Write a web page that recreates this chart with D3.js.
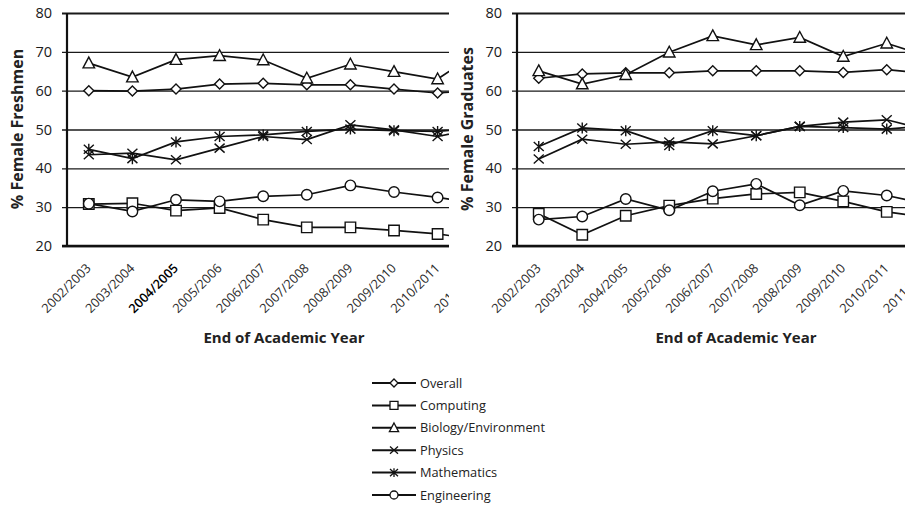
<!DOCTYPE html>
<html><head><meta charset="utf-8">
<script src="https://cdn.jsdelivr.net/npm/d3@7"></script>
<style>body{margin:0;background:#fff} svg{display:block;font-family:'Open Sans',sans-serif}</style>
</head><body><svg id="c" width="912" height="505"></svg>
<script>
const years = ["2002/2003","2003/2004","2004/2005","2005/2006","2006/2007","2007/2008","2008/2009","2009/2010","2010/2011","2011/2012"];
const yTicks = [20,30,40,50,60,70,80];
const seriesNames = ["Overall","Computing","Biology/Environment","Physics","Mathematics","Engineering"];
const xTitle = "End of Academic Year";
const yTitles = ["% Female Freshmen","% Female Graduates"];

// Freshmen (left panel)
const freshOverall     = [60.0, 59.9, 60.4, 61.7, 61.9, 61.5, 61.5, 60.4, 59.4, 60.3];
const freshComputing   = [30.8, 31.0, 29.1, 29.8, 26.8, 24.8, 24.8, 24.0, 23.1, 21.6];
const freshBiology     = [67.1, 63.5, 68.0, 69.0, 67.9, 63.2, 66.8, 64.9, 63.0, 70.5];
const freshPhysics     = [43.5, 43.9, 42.2, 45.2, 48.2, 47.4, 51.2, 49.9, 48.2, 50.5];
const freshMathematics = [44.9, 42.5, 46.8, 48.2, 48.6, 49.5, 50.1, 49.7, 49.5, 50.5];
const freshEngineering = [30.9, 28.9, 31.9, 31.5, 32.8, 33.2, 35.6, 33.9, 32.5, 30.8];

// Graduates (right panel)
const gradOverall     = [63.2, 64.3, 64.6, 64.6, 65.1, 65.1, 65.1, 64.7, 65.4, 64.4];
const gradComputing   = [28.3, 22.9, 27.8, 30.4, 32.2, 33.4, 33.8, 31.5, 28.8, 27.2];
const gradBiology     = [65.1, 61.7, 64.1, 69.9, 74.1, 71.8, 73.7, 68.8, 72.2, 68.6];
const gradPhysics     = [42.4, 47.5, 46.2, 46.8, 46.3, 48.4, 50.8, 51.9, 52.5, 49.7];
const gradMathematics = [45.6, 50.4, 49.7, 45.9, 49.7, 48.4, 50.8, 50.5, 50.1, 51.0];
const gradEngineering = [26.8, 27.6, 32.1, 29.2, 34.1, 36.0, 30.5, 34.2, 33.0, 30.6];

const freshSeries = [freshOverall, freshComputing, freshBiology, freshPhysics, freshMathematics, freshEngineering];
const gradSeries  = [gradOverall, gradComputing, gradBiology, gradPhysics, gradMathematics, gradEngineering];

const svg = d3.select("#c");
const defs = svg.append("defs");

function markerPath(name, s) {
  const h = s/2;
  switch (name) {
    case "Overall": return `M0,${-h}L${h},0L0,${h}L${-h},0Z`;
    case "Computing": return `M${-h},${-h}H${h}V${h}H${-h}Z`;
    case "Biology/Environment": return `M0,${-h*1.2}L${h*1.15},${h*0.95}L${-h*1.15},${h*0.95}Z`;
    case "Physics": return `M${-h},${-h*0.9}L${h},${h*0.9}M${-h},${h*0.9}L${h},${-h*0.9}`;
    case "Mathematics": return `M${-h},${-h*0.9}L${h},${h*0.9}M${-h},${h*0.9}L${h},${-h*0.9}M0,${-h*1.1}V${h*1.1}`;
    case "Engineering": { const r = h; return `M${r},0A${r},${r} 0 1,1 ${-r},0A${r},${r} 0 1,1 ${r},0Z`; }
  }
}

const y = d3.scaleLinear().domain([20,80]).range([246,13]);

const panels = [
  {axisX:67, rangeEnd:503, clip:[0,449], series:freshSeries, yTitle:yTitles[0], yTitleX:17, titleX:284, boldLabel:"2004/2005"},
  {axisX:517, rangeEnd:952, clip:[452,905], series:gradSeries, yTitle:yTitles[1], yTitleX:467, titleX:736, boldLabel:null}
];

panels.forEach((p, pi) => {
  const cid = "clip"+pi;
  defs.append("clipPath").attr("id", cid).append("rect")
    .attr("x", p.clip[0]).attr("y", 0).attr("width", p.clip[1]-p.clip[0]).attr("height", 330);
  const g = svg.append("g").attr("clip-path", `url(#${cid})`);
  const x = d3.scalePoint().domain(years).range([p.axisX, p.rangeEnd]).padding(0.5);

  // y axis with gridlines
  const yAxis = d3.axisLeft(y).tickValues(yTicks).tickSizeOuter(0);
  const ya = g.append("g").attr("transform", `translate(${p.axisX},0)`).call(yAxis);
  ya.select(".domain").remove();
  ya.selectAll(".tick line").attr("x1", -5).attr("x2", p.rangeEnd - p.axisX).attr("stroke", "#1a1a1a").attr("stroke-width", 1.4);
  ya.selectAll(".tick text").attr("x", -15).attr("font-size", 14.5).attr("fill", "#1a1a1a").attr("font-family", "'Open Sans',sans-serif");
  ya.selectAll(".tick").filter(d => d === 80).select("line").attr("stroke-width", 2);

  // vertical axis line
  g.append("line").attr("x1", p.axisX).attr("x2", p.axisX).attr("y1", y(80)).attr("y2", y(20))
    .attr("stroke", "#111").attr("stroke-width", 2.2);
  // x axis
  const xAxis = d3.axisBottom(x).tickSize(0).tickFormat("");
  const xa = g.append("g").attr("transform", `translate(0,${y(20)})`).call(xAxis);
  xa.select(".domain").attr("d", `M${p.axisX - 5},0H${p.rangeEnd}`).attr("stroke", "#111").attr("stroke-width", 2.6);
  g.append("g").selectAll("text").data(years).join("text")
    .attr("transform", d => `translate(${x(d)+3},269) rotate(-45)`)
    .attr("text-anchor", "end").attr("font-size", 12.8).attr("fill", d => d === p.boldLabel ? "#000" : "#2a2a2a")
    .attr("font-weight", d => d === p.boldLabel ? 600 : 400)
    .text(d => d);

  // series
  p.series.forEach((vals, si) => {
    const name = seriesNames[si];
    const pts = years.map((yr, i) => [x(yr), y(vals[i])]);
    g.append("path").attr("d", d3.line()(pts)).attr("fill", "none").attr("stroke", "#111").attr("stroke-width", 1.7);
    g.append("g").selectAll("path").data(pts).join("path")
      .attr("transform", d => `translate(${d[0]},${d[1]})`)
      .attr("d", markerPath(name, name === "Computing" ? 10.5 : name === "Engineering" ? 10.5 : 10))
      .attr("fill", (name === "Physics" || name === "Mathematics") ? "none" : "#fff")
      .attr("stroke", "#111").attr("stroke-width", 1.4);
  });

  // titles
  svg.append("text").attr("transform", `translate(${p.yTitleX + 5.5},129) rotate(-90)`)
    .attr("text-anchor", "middle").attr("font-size", 16).attr("font-weight", 700).attr("fill", "#222").text(p.yTitle);
  svg.append("text").attr("x", p.titleX).attr("y", 343).attr("text-anchor", "middle")
    .attr("font-size", 15).attr("font-weight", 700).attr("fill", "#222").text(xTitle);
});

// legend
const leg = svg.append("g");
const rowY = d3.scalePoint().domain(seriesNames).range([383, 495]);
seriesNames.forEach(name => {
  const cy = rowY(name);
  leg.append("line").attr("x1", 372).attr("x2", 416).attr("y1", cy).attr("y2", cy).attr("stroke", "#111").attr("stroke-width", 2);
  leg.append("path").attr("transform", `translate(394,${cy})`).attr("d", markerPath(name, 8))
    .attr("fill", (name === "Physics" || name === "Mathematics") ? "none" : "#fff")
    .attr("stroke", "#111").attr("stroke-width", 1.3);
  leg.append("text").attr("x", 420).attr("y", cy + 4.5).attr("font-size", 12.8).attr("fill", "#222").text(name);
});
</script></body></html>
